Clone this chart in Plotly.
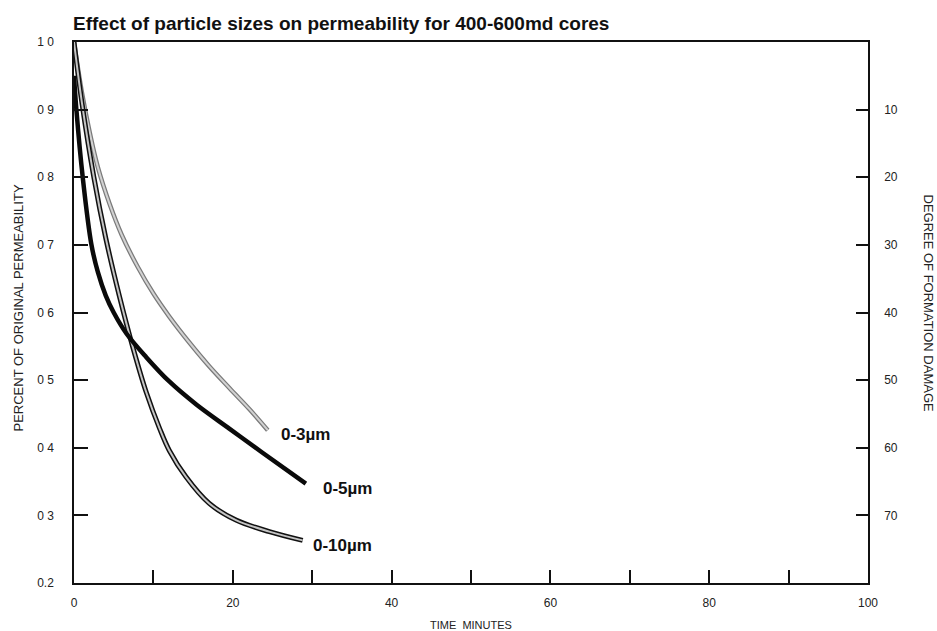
import plotly.graph_objects as go

# ---- data ----
t_3um = [0, 1.0, 2.0, 3.0, 4.5, 6.0, 8.0, 10.0, 12.0, 14.5, 17.0, 19.6, 22.1, 24.4]
k_3um = [1.0, 0.925, 0.865, 0.815, 0.760, 0.715, 0.668, 0.628, 0.594, 0.556, 0.521, 0.488, 0.457, 0.426]

t_5um = [0, 0.3, 1.1, 2.2, 3.0, 4.0, 5.0, 6.6, 9.1, 12.0, 15.4, 19.6, 23.7, 29.2]
k_5um = [0.95, 0.90, 0.80, 0.70, 0.660, 0.625, 0.600, 0.569, 0.534, 0.498, 0.464, 0.428, 0.393, 0.347]

t_10um = [0, 1.0, 2.5, 4.0, 5.7, 7.4, 9.1, 10.8, 12.0, 14.1, 17.0, 20.4, 24.6, 28.8]
k_10um = [1.0, 0.91, 0.80, 0.71, 0.625, 0.549, 0.482, 0.428, 0.396, 0.357, 0.318, 0.293, 0.276, 0.263]

labels = ["0-3\u00b5m", "0-5\u00b5m", "0-10\u00b5m"]
label_t = [25.8, 31.1, 29.9]
label_k = [0.419, 0.340, 0.256]

x_ticks = [0, 10, 20, 30, 40, 50, 60, 70, 80, 90, 100]
x_ticktext = ["0", "", "20", "", "40", "", "60", "", "80", "", "100"]
y_ticks = [0.2, 0.3, 0.4, 0.5, 0.6, 0.7, 0.8, 0.9, 1.0]
y_ticktext = ["0.2", "0 3", "0 4", "0 5", "0 6", "0 7", "0 8", "0 9", "1 0"]
y2_ticks = [10, 20, 30, 40, 50, 60, 70]

title = "Effect of particle sizes on permeability for 400-600md cores"
x_title = "TIME  MINUTES"
y_title = "PERCENT OF ORIGINAL PERMEABILITY"
y2_title = "DEGREE OF FORMATION DAMAGE"

FONT = "Liberation Sans, Arial, sans-serif"

fig = go.Figure()

# 0-3 um : grey speckled band
fig.add_trace(go.Scatter(x=t_3um, y=k_3um, mode="lines",
                         line=dict(color="#7a7a7a", width=4.5, shape="spline", smoothing=1.0),
                         hoverinfo="skip", showlegend=False))
fig.add_trace(go.Scatter(x=t_3um, y=k_3um, mode="lines",
                         line=dict(color="#d2d2d2", width=2, shape="spline", smoothing=1.0),
                         hoverinfo="skip", showlegend=False))
# 0-10 um : outlined double line
fig.add_trace(go.Scatter(x=t_10um, y=k_10um, mode="lines",
                         line=dict(color="#111111", width=5, shape="spline", smoothing=1.0),
                         hoverinfo="skip", showlegend=False))
fig.add_trace(go.Scatter(x=t_10um, y=k_10um, mode="lines",
                         line=dict(color="#c4c4c4", width=2, shape="spline", smoothing=1.0),
                         hoverinfo="skip", showlegend=False))
# 0-5 um : thick black
fig.add_trace(go.Scatter(x=t_5um, y=k_5um, mode="lines",
                         line=dict(color="#0a0a0a", width=4.5, shape="spline", smoothing=1.0),
                         hoverinfo="skip", showlegend=False))

# invisible trace for the right axis
fig.add_trace(go.Scatter(x=[0, 100], y=[80, 0], yaxis="y2", mode="markers",
                         marker=dict(opacity=0), hoverinfo="skip", showlegend=False))

for txt, tx, ky in zip(labels, label_t, label_k):
    fig.add_annotation(x=tx, y=ky, xref="x", yref="y", text="<b>" + txt + "</b>", showarrow=False,
                       xanchor="left", yanchor="middle",
                       font=dict(family=FONT, size=17, color="#111111"))

fig.update_layout(
    width=937, height=631,
    margin=dict(l=74, r=69, t=42, b=48),
    paper_bgcolor="white", plot_bgcolor="white",
    showlegend=False,
    xaxis=dict(range=[0, 100], tickvals=x_ticks, ticktext=x_ticktext,
               ticks="inside", ticklen=13, tickwidth=1.5, tickcolor="#111",
               showline=True, linecolor="#111", linewidth=1.5, mirror=True,
               showgrid=False, zeroline=False, ticklabelstandoff=8,
               tickfont=dict(family=FONT, size=12, color="#222")),
    yaxis=dict(range=[0.2, 1.0], tickvals=y_ticks, ticktext=y_ticktext,
               ticks="inside", ticklen=14, tickwidth=1.5, tickcolor="#111",
               showline=True, linecolor="#111", linewidth=1.5, mirror=True,
               showgrid=False, zeroline=False, ticklabelstandoff=16,
               tickfont=dict(family=FONT, size=12, color="#222")),
    yaxis2=dict(range=[80, 0], overlaying="y", side="right", tickvals=y2_ticks,
                ticks="inside", ticklen=12, tickwidth=1.5, tickcolor="#111",
                showline=True, linecolor="#111", linewidth=1.5,
                showgrid=False, zeroline=False, ticklabelstandoff=12,
                tickfont=dict(family=FONT, size=12, color="#222")),
)

fig.add_annotation(xref="paper", yref="paper", x=0, y=1, xshift=-3, yshift=19,
                   text="<b>" + title + "</b>", showarrow=False,
                   xanchor="left", yanchor="middle",
                   font=dict(family=FONT, size=19, color="#111"))
fig.add_annotation(xref="paper", yref="paper", x=0.5, y=0, yshift=-42,
                   text=x_title, showarrow=False, xanchor="center", yanchor="middle",
                   font=dict(family=FONT, size=11, color="#222"))
fig.add_annotation(xref="paper", yref="paper", x=0, xshift=-56, y=0.5, yshift=4,
                   text=y_title, textangle=-90, showarrow=False,
                   xanchor="center", yanchor="middle",
                   font=dict(family=FONT, size=13, color="#222"))
fig.add_annotation(xref="paper", yref="paper", x=1, xshift=60, y=0.5, yshift=10,
                   text=y2_title, textangle=90, showarrow=False,
                   xanchor="center", yanchor="middle",
                   font=dict(family=FONT, size=13, color="#222"))

fig.write_html("out.html")
